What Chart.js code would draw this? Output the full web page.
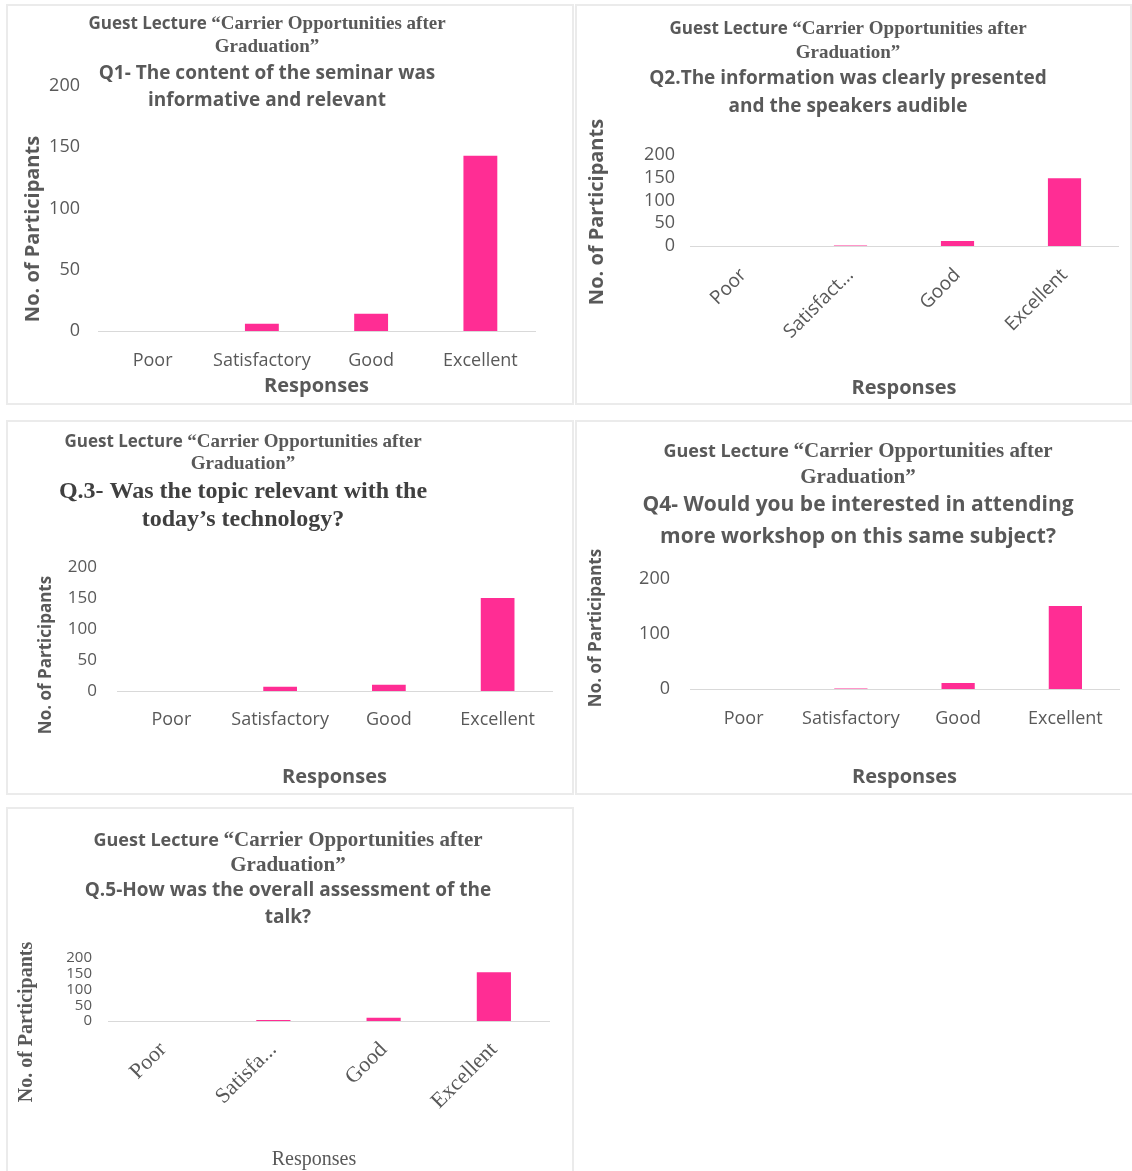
<!DOCTYPE html>
<html>
<head>
<meta charset="utf-8">
<script src="https://cdn.jsdelivr.net/npm/chart.js@4.4.1/dist/chart.umd.min.js"></script>
<style>
  html, body { margin: 0; padding: 0; background: #ffffff; }
  body { width: 1132px; height: 1171px; position: relative; overflow: hidden; }
  .panel { position: absolute; box-sizing: border-box; border: 2px solid #ebebeb; }
  canvas { position: absolute; }
</style>
</head>
<body>
<div class="panel" style="left:6px;top:4px;width:568px;height:401px;"></div>
<div class="panel" style="left:575px;top:4px;width:557px;height:401px;"></div>
<div class="panel" style="left:6px;top:420px;width:568px;height:375px;"></div>
<div class="panel" style="left:575px;top:420px;width:559px;height:375px;"></div>
<div class="panel" style="left:6px;top:807px;width:568px;height:370px;"></div>

<canvas id="c1" width="564" height="398" style="left:8px;top:5px;"></canvas>
<canvas id="c2" width="554" height="398" style="left:576px;top:5px;"></canvas>
<canvas id="c3" width="564" height="370" style="left:8px;top:423px;"></canvas>
<canvas id="c4" width="556" height="370" style="left:576px;top:423px;"></canvas>
<canvas id="c5" width="564" height="363" style="left:8px;top:808px;"></canvas>

<script>
// ---------------- DATA ----------------
const categories = ['Poor', 'Satisfactory', 'Good', 'Excellent'];
const q1Values = [0, 6, 14, 143];
const q2Values = [0, 1, 11, 149];
const q3Values = [0, 7, 10, 150];
const q4Values = [0, 1, 11, 151];
const q5Values = [0, 3, 10, 155];

const q2TickLabels = ['Poor', 'Satisfact...', 'Good', 'Excellent'];
const q5TickLabels = ['Poor', 'Satisfa...', 'Good', 'Excellent'];

const yMax = 200;
const q1Step = 50, q2Step = 50, q3Step = 50, q4Step = 100, q5Step = 50;

const headerLead = 'Guest Lecture ';
const headerRest = '\u201CCarrier Opportunities after';
const headerLine2 = 'Graduation\u201D';
const q1Title = ['Q1- The content of the seminar was', 'informative and relevant'];
const q2Title = ['Q2.The information was clearly presented', 'and the speakers audible'];
const q3Title = ['Q.3- Was the topic relevant with the', 'today\u2019s technology?'];
const q4Title = ['Q4- Would you be interested in attending', 'more workshop on this same subject?'];
const q5Title = ['Q.5-How was the overall assessment of the', 'talk?'];
const yAxisTitle = 'No. of Participants';
const xAxisTitle = 'Responses';

// ---------------- STYLE ----------------
const PINK = '#ff2d94';
const TXT = '#595959';
const SANS = '"Open Sans", Lato, sans-serif';
const SERIF = '"Liberation Serif", "DejaVu Serif", serif';

const headerPlugin = {
  id: 'headerText',
  afterDraw(chart, args, opts) {
    const ctx = chart.ctx;
    (opts.lines || []).forEach(line => {
      ctx.save();
      ctx.textBaseline = 'middle';
      ctx.textAlign = 'left';
      let total = 0;
      line.segs.forEach(s => { ctx.font = s.font; s.w = ctx.measureText(s.text).width; total += s.w; });
      ctx.translate(line.cx, line.y);
      if (line.rot) ctx.rotate(line.rot);
      let x = -total / 2;
      line.segs.forEach(s => {
        ctx.font = s.font; ctx.fillStyle = s.color || TXT;
        ctx.fillText(s.text, x, 0); x += s.w;
      });
      ctx.restore();
    });
  }
};

function headerLines(o) {
  const lead = `bold ${o.leadSize}px ${SANS}`;
  const ser = `bold ${o.serSize}px ${SERIF}`;
  const arr = [
    { cx: o.cx, y: o.y[0], segs: [ { text: headerLead, font: lead }, { text: headerRest, font: ser } ] },
    { cx: o.cx, y: o.y[1], segs: [ { text: headerLine2, font: ser } ] },
    { cx: o.cx, y: o.y[2], segs: [ { text: o.q[0], font: o.qFont, color: o.qColor } ] },
    { cx: o.cx, y: o.y[3], segs: [ { text: o.q[1], font: o.qFont, color: o.qColor } ] },
    { cx: o.yt[0], y: o.yt[1], rot: -Math.PI / 2, segs: [ { text: yAxisTitle, font: o.ytFont } ] }
  ];
  if (o.xt) arr.push({ cx: o.xt[0], y: o.xt[1], segs: [ { text: xAxisTitle, font: o.xtFont } ] });
  return arr;
}

function makeChart(id, values, o) {
  new Chart(document.getElementById(id), {
    type: 'bar',
    data: {
      labels: categories,
      datasets: [{ data: values, backgroundColor: PINK, borderWidth: 0,
                   barPercentage: 1, categoryPercentage: 0.31 }]
    },
    options: {
      responsive: false,
      animation: false,
      layout: { padding: { top: o.padTop, right: o.padRight, left: 0, bottom: 0 } },
      plugins: {
        legend: { display: false },
        tooltip: { enabled: false },
        title: { display: false },
        headerText: { lines: o.header }
      },
      scales: {
        x: {
          grid: { display: false, drawTicks: false },
          border: { display: true, color: '#d9d9d9', width: 1 },
          ticks: {
            color: TXT, font: o.xTickFont, padding: o.xTickPad,
            minRotation: o.rot || 0, maxRotation: o.rot || 0, autoSkip: false,
            callback: function (v, i) { return o.tickLabels ? o.tickLabels[i] : categories[i]; }
          },
          title: o.xTitleFont ? { display: true, text: xAxisTitle, color: TXT, font: o.xTitleFont,
                   padding: { top: 0, bottom: o.xTitlePad } } : { display: false },
          afterFit: s => { s.height = o.xHeight; }
        },
        y: {
          min: 0, max: yMax,
          grid: { display: false, drawTicks: false },
          border: { display: false },
          ticks: { stepSize: o.step, color: TXT, font: o.yTickFont, padding: o.yTickPad, autoSkip: false },
          title: { display: false },
          afterFit: s => { s.width = o.yWidth; }
        }
      }
    },
    plugins: [headerPlugin]
  });
}

// Q1
makeChart('c1', q1Values, {
  padTop: 81, padRight: 37, yWidth: 90, xHeight: 72, step: q1Step,
  yTickFont: { family: SANS, size: 18 }, yTickPad: 18,
  xTickFont: { family: SANS, size: 18 }, xTickPad: 19,
  xTitleFont: { family: SANS, size: 20, weight: 'bold' }, xTitlePad: 5,
  header: headerLines({ cx: 259, y: [19, 42, 69, 96], leadSize: 17, serSize: 19,
    q: q1Title, qFont: `bold 19px ${SANS}`, qColor: TXT,
    yt: [25, 224], ytFont: `bold 20px ${SANS}` })
});

// Q2
makeChart('c2', q2Values, {
  padTop: 150, padRight: 12, yWidth: 114, xHeight: 157, step: q2Step,
  yTickFont: { family: SANS, size: 18 }, yTickPad: 15,
  xTickFont: { family: SANS, size: 19 }, xTickPad: 18, rot: 45, tickLabels: q2TickLabels,
  xTitleFont: { family: SANS, size: 20, weight: 'bold' }, xTitlePad: 3,
  header: headerLines({ cx: 272, y: [24, 48, 74, 102], leadSize: 17, serSize: 19,
    q: q2Title, qFont: `bold 19px ${SANS}`, qColor: TXT,
    yt: [21, 207], ytFont: `bold 20px ${SANS}` })
});

// Q3
makeChart('c3', q3Values, {
  padTop: 144, padRight: 20, yWidth: 109, xHeight: 102, step: q3Step,
  yTickFont: { family: SANS, size: 17 }, yTickPad: 20,
  xTickFont: { family: SANS, size: 18 }, xTickPad: 18,
  xTitleFont: { family: SANS, size: 20, weight: 'bold' }, xTitlePad: 4,
  header: headerLines({ cx: 235, y: [19, 41, 69, 97], leadSize: 17, serSize: 19,
    q: q3Title, qFont: `bold 24px ${SERIF}`, qColor: '#404040',
    yt: [38, 232], ytFont: `bold 17px ${SANS}` })
});

// Q4
makeChart('c4', q4Values, {
  padTop: 156, padRight: 13, yWidth: 114, xHeight: 104, step: q4Step,
  yTickFont: { family: SANS, size: 18 }, yTickPad: 20,
  xTickFont: { family: SANS, size: 18 }, xTickPad: 19,
  xTitleFont: { family: SANS, size: 20, weight: 'bold' }, xTitlePad: 4,
  header: headerLines({ cx: 282, y: [29, 55, 82, 114], leadSize: 18, serSize: 21,
    q: q4Title, qFont: `bold 21px ${SANS}`, qColor: TXT,
    yt: [20, 205], ytFont: `bold 17px ${SANS}` })
});

// Q5
makeChart('c5', q5Values, {
  padTop: 150, padRight: 23, yWidth: 100, xHeight: 150, step: q5Step,
  yTickFont: { family: SANS, size: 15 }, yTickPad: 16,
  xTickFont: { family: SERIF, size: 22 }, xTickPad: 16, rot: 45, tickLabels: q5TickLabels,
  header: headerLines({ cx: 280, y: [33, 58, 83, 110], leadSize: 18, serSize: 21,
    q: q5Title, qFont: `bold 19px ${SANS}`, qColor: TXT,
    yt: [19, 214], ytFont: `bold 20px ${SERIF}`,
    xt: [306, 352], xtFont: `20px ${SERIF}` })
});
</script>
</body>
</html>
